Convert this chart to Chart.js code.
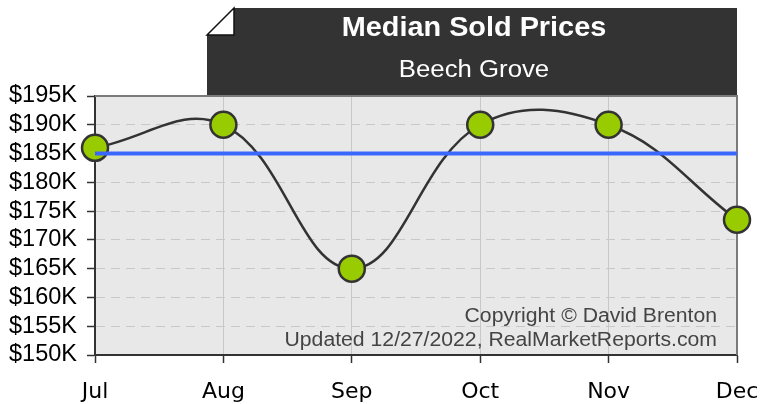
<!DOCTYPE html>
<html>
<head>
<meta charset="utf-8">
<script src="https://cdn.jsdelivr.net/npm/chart.js@4.4.0/dist/chart.umd.min.js"></script>
<style>
	html, body { margin: 0; padding: 0; background: #fff; }
	#wrap { width: 760px; height: 404px; }
</style>
</head>
<body>
<div id="wrap"><canvas id="chart" width="760" height="404"></canvas></div>
<script>
// chart data
var months = ['Jul', 'Aug', 'Sep', 'Oct', 'Nov', 'Dec'];
var prices = [186000, 190000, 165000, 190000, 190000, 173500];
var refLine = [185000, 185000, 185000, 185000, 185000, 185000];
var yTicks = [150000, 155000, 160000, 165000, 170000, 175000, 180000, 185000, 190000, 195000];
var titleText = 'Median Sold Prices';
var subTitleText = 'Beech Grove';
var creditLines = ['Copyright \u00A9 David Brenton', 'Updated 12/27/2022, RealMarketReports.com'];

// draw text stretched a bit sideways, like the original
function stretchText(ctx, text, x, y, sx, align) {
	ctx.save();
	ctx.translate(x, y);
	ctx.scale(sx, 1);
	ctx.textAlign = align;
	ctx.fillText(text, 0, 0);
	ctx.restore();
}

var decorPlugin = {
	id: 'decor',
	beforeDraw: function (chart) {
		var ctx = chart.ctx, a = chart.chartArea;
		ctx.save();
		ctx.fillStyle = '#e8e8e8';
		ctx.fillRect(a.left, a.top, a.right - a.left, a.bottom - a.top);
		ctx.restore();
	},
	beforeDatasetsDraw: function (chart) {
		var ctx = chart.ctx, a = chart.chartArea;
		ctx.save();
		// top and right frame
		ctx.strokeStyle = '#7a7a7a';
		ctx.lineWidth = 2;
		ctx.beginPath();
		ctx.moveTo(a.left, a.top);
		ctx.lineTo(a.right, a.top);
		ctx.lineTo(a.right, a.bottom);
		ctx.stroke();
		// credits
		ctx.fillStyle = '#444';
		ctx.font = '20px "Liberation Sans", Arial, sans-serif';
		ctx.textBaseline = 'alphabetic';
		stretchText(ctx, creditLines[0], a.right - 20, 322, 1.06, 'right');
		stretchText(ctx, creditLines[1], a.right - 20, 346, 1.06, 'right');
		ctx.restore();
	},
	afterDraw: function (chart) {
		var ctx = chart.ctx, a = chart.chartArea;
		var bx = 207, by = 8, fold = 27, bb = 95;
		ctx.save();
		ctx.fillStyle = '#333';
		ctx.beginPath();
		ctx.moveTo(bx + fold, by);
		ctx.lineTo(a.right, by);
		ctx.lineTo(a.right, bb);
		ctx.lineTo(bx, bb);
		ctx.lineTo(bx, by + fold);
		ctx.closePath();
		ctx.fill();
		// folded corner
		ctx.fillStyle = '#fff';
		ctx.strokeStyle = '#111';
		ctx.lineWidth = 1.5;
		ctx.beginPath();
		ctx.moveTo(bx, by + fold);
		ctx.lineTo(bx + fold, by);
		ctx.lineTo(bx + fold, by + fold);
		ctx.closePath();
		ctx.fill();
		ctx.stroke();
		// titles
		var cx = (bx + a.right) / 2 + 2;
		ctx.fillStyle = '#fff';
		ctx.font = 'bold 28px "Liberation Sans", Arial, sans-serif';
		stretchText(ctx, titleText, cx, 36, 1.03, 'center');
		ctx.font = '23px "Liberation Sans", Arial, sans-serif';
		stretchText(ctx, subTitleText, cx, 77, 1.12, 'center');
		ctx.restore();
	}
};

var chart = new Chart(document.getElementById('chart').getContext('2d'), {
	type: 'line',
	data: {
		labels: months,
		datasets: [
			{
				label: 'Reference',
				data: refLine,
				borderColor: '#3a68ff',
				borderWidth: 4,
				pointRadius: 0,
				tension: 0,
				clip: false,
				order: 0
			},
			{
				label: 'Median Sold Price',
				data: prices,
				borderColor: '#333',
				borderWidth: 2.5,
				tension: 0.4,
				pointRadius: 13,
				pointHoverRadius: 13,
				pointBackgroundColor: '#99cc00',
				pointBorderColor: '#333',
				pointBorderWidth: 2.5,
				clip: false,
				order: 1
			}
		]
	},
	options: {
		responsive: false,
		animation: false,
		devicePixelRatio: 1,
		layout: { padding: { top: 96, right: 23, left: 0, bottom: 0 } },
		plugins: {
			legend: { display: false },
			tooltip: { enabled: false },
			title: { display: false }
		},
		scales: {
			x: {
				offset: false,
				grid: {
					color: '#c8c8c8',
					lineWidth: 1,
					drawTicks: true,
					tickLength: 8,
					tickColor: '#333',
					tickWidth: 1.5
				},
				border: { color: '#333', width: 2 },
				ticks: {
					color: '#000',
					padding: 16,
					maxRotation: 0,
					autoSkip: false,
					font: { family: '"DejaVu Sans", sans-serif', size: 22 }
				},
				afterFit: function (axis) {
					axis.height = 49;
					axis.paddingLeft = 0;
					axis.paddingRight = 0;
				}
			},
			y: {
				min: yTicks[0],
				max: yTicks[yTicks.length - 1],
				afterBuildTicks: function (axis) {
					axis.ticks = yTicks.map(function (v) { return { value: v }; });
				},
				grid: {
					color: '#c8c8c8',
					lineWidth: 1,
					tickLength: 8,
					tickColor: '#333',
					tickWidth: 1.5,
					tickBorderDash: []
				},
				border: { color: '#333', width: 2, dash: [9, 6] },
				ticks: {
					color: '#000',
					padding: 10,
					autoSkip: false,
					font: { family: '"Liberation Sans", Arial, sans-serif', size: 23.5 },
					callback: function (v) { return '$' + (v / 1000) + 'K'; }
				},
				afterFit: function (axis) {
					axis.width = 95;
					axis.paddingTop = 0;
					axis.paddingBottom = 0;
				}
			}
		}
	},
	plugins: [decorPlugin]
});
</script>
</body>
</html>
